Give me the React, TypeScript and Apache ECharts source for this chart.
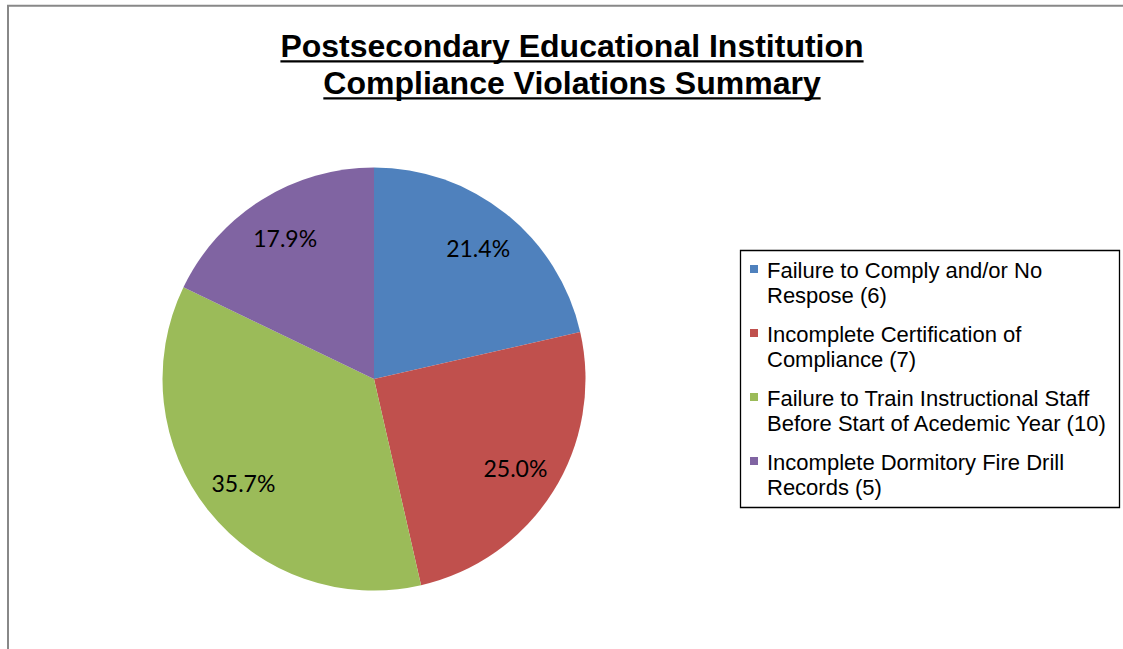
import React, { useEffect, useRef } from 'react';
import * as echarts from 'echarts';

const titleLines = ['Postsecondary Educational Institution', 'Compliance Violations Summary'];
const categories = [
  'Failure to Comply and/or No Respose',
  'Incomplete Certification of Compliance',
  'Failure to Train Instructional Staff Before Start of Acedemic Year',
  'Incomplete Dormitory Fire Drill Records',
];
const values = [6, 7, 10, 5];
const colors = ['#4F81BD', '#C0504D', '#9BBB59', '#8064A2'];

export default function App() {
  const ref = useRef<HTMLDivElement>(null);
  useEffect(() => {
    const el = ref.current!;
    const chart = echarts.init(el, null, { renderer: 'svg' });
    const names = categories.map((c, i) => `${c} (${values[i]})`);
    const data = names.map((n, i) => ({ name: n, value: values[i], itemStyle: { color: colors[i] } }));
    const labelData = names.map((n, i) => ({ name: n, value: values[i], itemStyle: { color: 'rgba(0,0,0,0)' } }));

    const titleFont = 'bold 32px "Liberation Sans", Arial, sans-serif';
    const canvas = document.createElement('canvas');
    const ctx = canvas.getContext('2d')!;
    ctx.font = titleFont;
    const tcx = 572;
    const titleY = [46, 83];
    const graphics: any[] = [
      {
        type: 'rect',
        shape: { x: 8, y: 5.7, width: 1200, height: 700 },
        style: { fill: 'rgba(0,0,0,0)', stroke: '#888888', lineWidth: 2 },
        silent: true,
      },
      {
        type: 'rect',
        shape: { x: 740.5, y: 250.5, width: 379, height: 257 },
        style: { fill: 'rgba(0,0,0,0)', stroke: '#000000', lineWidth: 1.3 },
        silent: true,
      },
    ];
    titleLines.forEach((t, i) => {
      const w = ctx.measureText(t).width;
      graphics.push({
        type: 'text',
        x: tcx,
        y: titleY[i],
        silent: true,
        style: {
          text: t,
          font: titleFont,
          fill: '#000',
          align: 'center',
          verticalAlign: 'middle',
          textAlign: 'center',
          textVerticalAlign: 'middle',
        },
      });
      const uy = titleY[i] + 15.3;
      graphics.push({
        type: 'line',
        silent: true,
        shape: { x1: tcx - w / 2, y1: uy, x2: tcx + w / 2, y2: uy },
        style: { stroke: '#000', lineWidth: 2.3 },
      });
    });

    chart.setOption({
      animation: false,
      backgroundColor: '#ffffff',
      legend: {
        orient: 'vertical',
        left: 750,
        top: 258,
        padding: 0,
        itemWidth: 12,
        itemHeight: 50,
        itemGap: 14,
        icon: 'path://M0,0M12,50M0,7h8v8h-8z',
        selectedMode: false,
        data: names,
        textStyle: {
          fontFamily: '"Liberation Sans", Arial, sans-serif',
          fontSize: 22,
          lineHeight: 25,
          color: '#000',
          width: 350,
          overflow: 'break',
        },
      },
      series: [
        {
          type: 'pie',
          center: [374, 379],
          radius: 211.5,
          startAngle: 90,
          clockwise: true,
          silent: true,
          data,
          label: { show: false },
          labelLine: { show: false },
          itemStyle: { borderWidth: 0 },
          emphasis: { disabled: true },
        },
        {
          type: 'pie',
          center: [374, 379],
          radius: [0, 328],
          startAngle: 90,
          clockwise: true,
          silent: true,
          avoidLabelOverlap: false,
          data: labelData,
          itemStyle: { borderWidth: 0 },
          labelLine: { show: false },
          emphasis: { disabled: true },
          label: {
            show: true,
            position: 'inside',
            formatter: (p: any) => p.percent.toFixed(1) + '%',
            fontFamily: 'Lato, "Open Sans", sans-serif',
            fontSize: 23,
            color: '#000',
          },
        },
      ],
      graphic: graphics,
    });
    return () => chart.dispose();
  }, []);
  return (
    <div
      ref={ref}
      style={{ position: 'absolute', left: 0, top: 0, width: 1123, height: 649, background: '#fff' }}
    />
  );
}
